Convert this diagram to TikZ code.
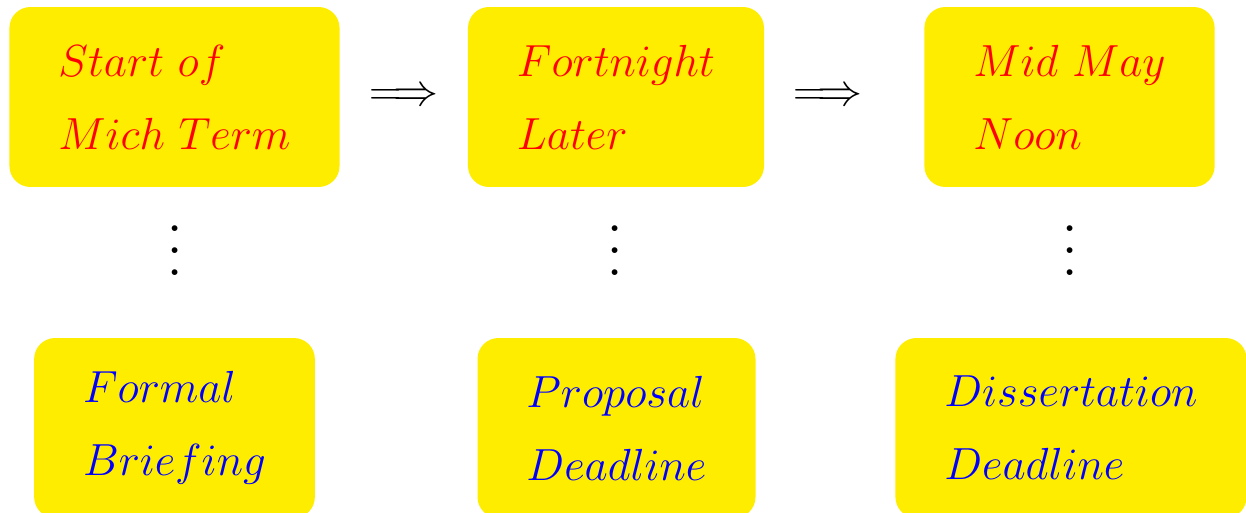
\RequirePackage{fix-cm}
\documentclass[tikz,border=0pt]{standalone}
\usepackage{amsmath}
\usetikzlibrary{calc}

\definecolor{boxyellow}{RGB}{255,237,0}

\begin{document}
\begin{tikzpicture}[x=0.02cm, y=-0.02cm,
    event/.style={fill=boxyellow, rounded corners=0.42cm, align=left,
        minimum height=3.6cm, inner xsep=0.98cm,
        font=\fontsize{25.6}{41.5}\selectfont},
    when/.style={event, text=red},
    what/.style={event, text=blue},
    later/.style={inner sep=0pt, font=\fontsize{25.6}{30}\selectfont},
    gap/.style={inner sep=0pt}]

    % Fix the frame of the picture
    \useasboundingbox (0,0) rectangle (1246,513);

    % Top row: when it happens
    \node[when] (mich)      at (174.5,97) {$Start\ of$\\$Mich\ Term$};
    \node[when] (fortnight) at (616,97)   {$Fortnight$\\$Later$};
    \node[when] (midmay)    at (1069.5,97) {$Mid\ May$\\$Noon$};

    % Arrows between the dates
    \node[later] (next1) at (404,97.5) {$\Longrightarrow$};
    \node[later] (next2) at (828,97.5) {$\Longrightarrow$};

    % Vertical dots
    \node[gap] (dots1) at (175,234)  {\scalebox{3.1}{$\vdots$}};
    \node[gap] (dots2) at (615,234)  {\scalebox{3.1}{$\vdots$}};
    \node[gap] (dots3) at (1070,234) {\scalebox{3.1}{$\vdots$}};

    % Bottom row: what happens
    \node[what] (briefing) at (174.5,428) {$Formal$\\$Briefing$};
    \node[what] (proposal) at (616.5,428) {$Proposal$\\$Deadline$};
    \node[what] (thesis)   at (1071,428)  {$Dissertation$\\$Deadline$};

\end{tikzpicture}
\end{document}
